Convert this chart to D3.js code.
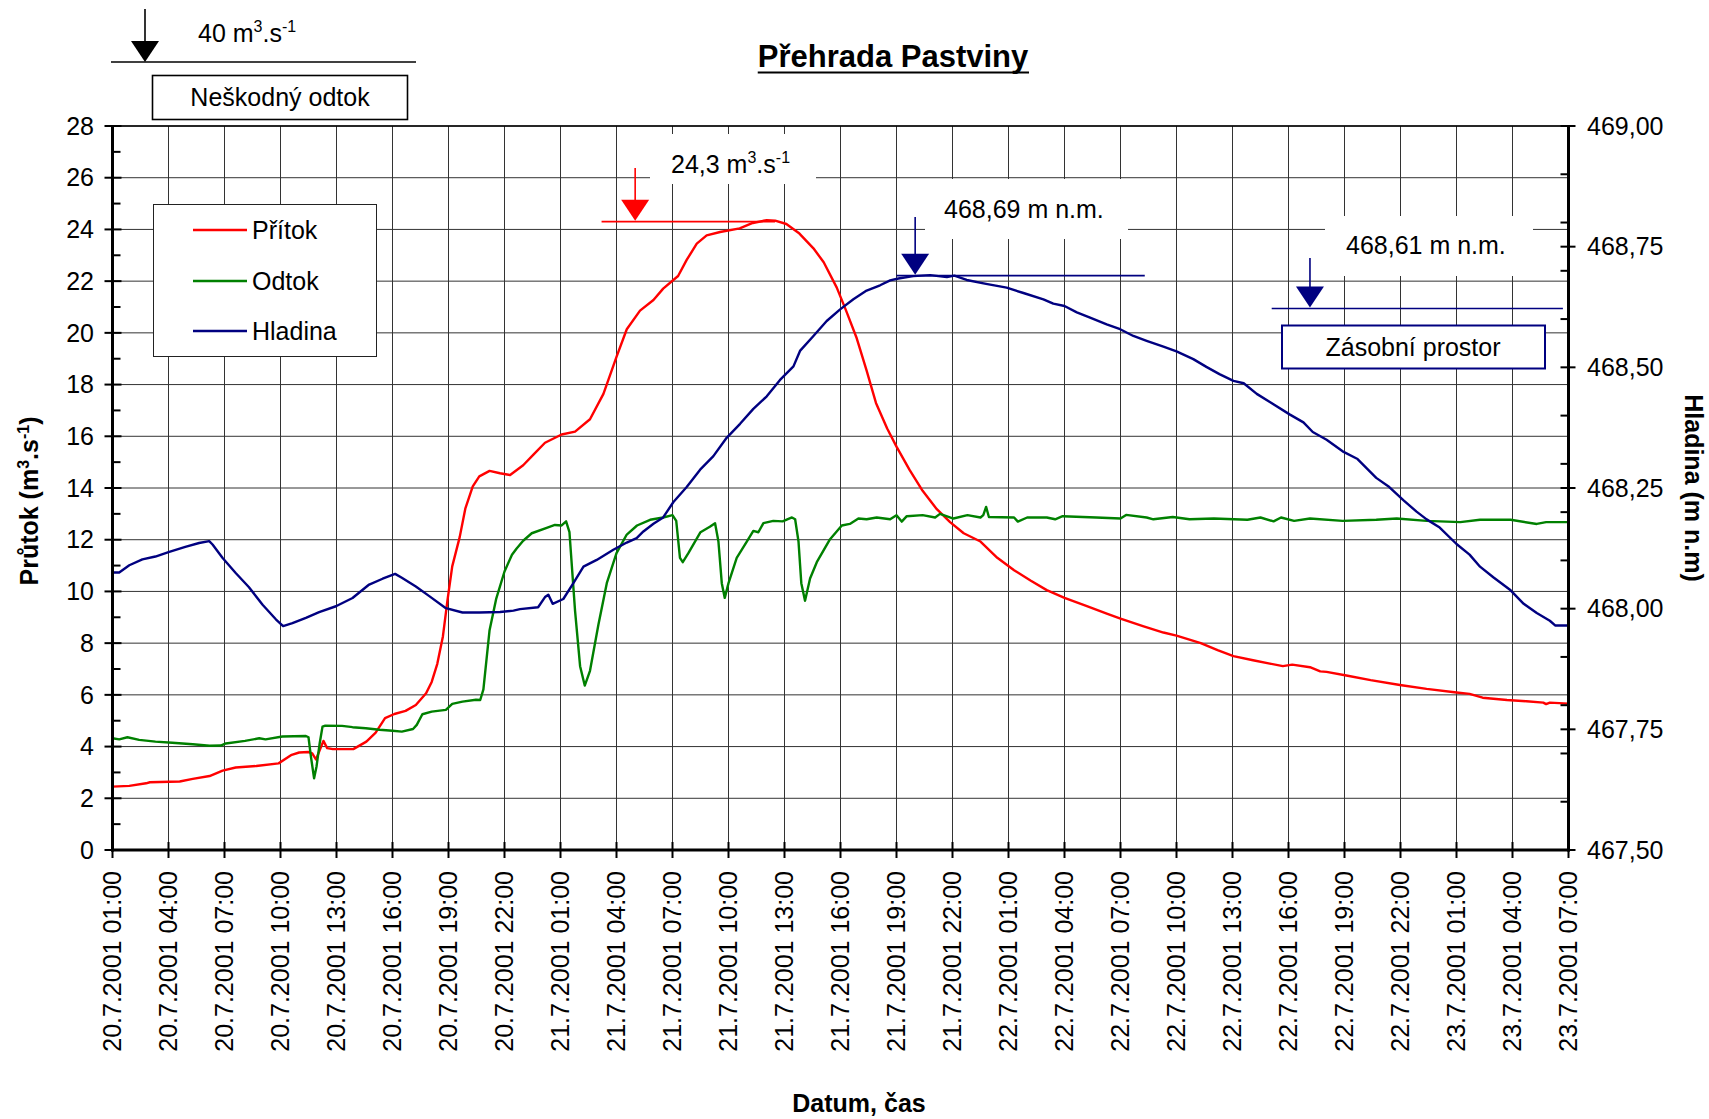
<!DOCTYPE html>
<html><head><meta charset="utf-8">
<script src="https://cdn.jsdelivr.net/npm/d3@7"></script>
<style>body{margin:0;background:#fff}</style>
</head><body>
<svg id="c" width="1709" height="1119"></svg>
<script>
// ---------------- DATA ----------------
// [hours since 20.7.2001 01:00, value]
const inflow = [[0,2.45],[0.9,2.48],[1.8,2.58],[2.0,2.62],[3.6,2.65],[4.3,2.75],[5.2,2.86],[5.9,3.07],[6.6,3.19],[7.7,3.25],[8.9,3.35],[9.6,3.68],[10.0,3.77],[10.5,3.79],[10.7,3.74],[10.9,3.5],[11.3,4.22],[11.5,3.94],[11.8,3.9],[12.9,3.9],[13.6,4.19],[14.1,4.54],[14.6,5.1],[15.1,5.26],[15.7,5.38],[16.25,5.61],[16.8,6.06],[17.1,6.5],[17.4,7.2],[17.7,8.26],[17.95,9.68],[18.2,10.97],[18.6,12.1],[18.9,13.2],[19.3,14.06],[19.65,14.45],[20.2,14.66],[20.76,14.57],[21.3,14.5],[22.0,14.88],[22.55,15.29],[23.17,15.75],[24.06,16.07],[24.78,16.18],[25.58,16.66],[26.3,17.64],[27.0,19.07],[27.55,20.14],[28.26,20.86],[28.98,21.27],[29.5,21.71],[30.3,22.2],[30.76,22.82],[31.3,23.45],[31.83,23.77],[32.55,23.9],[33.6,24.04],[34.3,24.25],[35.05,24.36],[35.5,24.34],[36.1,24.21],[36.8,23.84],[37.55,23.27],[38.1,22.73],[38.8,21.75],[39.3,20.86],[39.87,19.79],[40.4,18.54],[40.9,17.29],[41.5,16.3],[42.0,15.6],[42.7,14.7],[43.4,13.89],[44.16,13.18],[44.87,12.68],[45.6,12.25],[46.5,11.93],[47.4,11.3],[48.3,10.82],[49.2,10.41],[50.05,10.05],[51.0,9.75],[52.2,9.43],[53.3,9.13],[54.0,8.95],[55.2,8.66],[56.3,8.41],[57.0,8.29],[58.3,8.0],[59.2,7.73],[60.05,7.5],[61.1,7.34],[62.0,7.21],[62.7,7.11],[63.2,7.17],[64.15,7.07],[64.7,6.91],[65.04,6.89],[66.1,6.75],[67.4,6.57],[68.97,6.38],[70.4,6.23],[72.0,6.09],[72.7,6.04],[73.4,5.89],[74.7,5.8],[75.75,5.75],[76.65,5.7],[76.8,5.64],[77.0,5.7],[78.0,5.66]];

const outflow = [[0,4.32],[0.36,4.28],[0.8,4.36],[1.43,4.26],[2.3,4.19],[3.2,4.15],[4.3,4.09],[5.2,4.03],[5.8,4.04],[6.07,4.12],[7.1,4.22],[7.86,4.32],[8.2,4.28],[9.1,4.39],[10.36,4.41],[10.5,4.36],[10.63,3.61],[10.8,2.77],[10.93,3.23],[11.1,4.13],[11.25,4.77],[11.4,4.81],[12.3,4.8],[12.86,4.75],[13.57,4.71],[14.3,4.65],[15.0,4.61],[15.5,4.58],[16.1,4.68],[16.3,4.84],[16.6,5.25],[17.1,5.35],[17.86,5.42],[18.2,5.65],[18.75,5.74],[19.47,5.81],[19.7,5.8],[19.87,6.21],[20.2,8.5],[20.55,9.7],[21.0,10.77],[21.4,11.42],[21.65,11.66],[22.0,11.96],[22.46,12.25],[23.26,12.46],[23.7,12.57],[24.06,12.55],[24.3,12.71],[24.48,12.29],[24.78,9.25],[25.05,7.11],[25.3,6.36],[25.58,6.93],[26.03,8.71],[26.48,10.32],[27.0,11.48],[27.55,12.2],[28.1,12.55],[28.8,12.77],[29.5,12.86],[30.0,12.95],[30.2,12.73],[30.4,11.3],[30.55,11.13],[30.85,11.48],[31.5,12.29],[32.0,12.5],[32.28,12.64],[32.46,11.93],[32.64,10.32],[32.8,9.75],[33.0,10.32],[33.44,11.3],[33.98,11.93],[34.33,12.34],[34.6,12.29],[34.87,12.64],[35.4,12.73],[35.9,12.71],[36.4,12.86],[36.57,12.79],[36.75,11.93],[36.9,10.32],[37.1,9.64],[37.37,10.5],[37.73,11.13],[38.44,12.02],[39.07,12.55],[39.5,12.61],[39.96,12.82],[40.4,12.79],[40.94,12.86],[41.66,12.79],[42.0,12.95],[42.28,12.7],[42.55,12.91],[43.4,12.95],[44.07,12.86],[44.33,13.0],[45.05,12.82],[45.8,12.95],[46.5,12.86],[46.65,12.95],[46.8,13.27],[46.95,12.88],[48.3,12.86],[48.5,12.7],[49.0,12.86],[50.05,12.86],[50.5,12.79],[50.9,12.91],[52.7,12.86],[54.0,12.82],[54.3,12.96],[55.4,12.86],[55.76,12.79],[56.8,12.88],[57.7,12.79],[59.0,12.82],[60.8,12.77],[61.5,12.86],[62.2,12.71],[62.6,12.86],[63.3,12.73],[64.15,12.82],[65.9,12.73],[67.7,12.77],[68.8,12.82],[70.4,12.73],[72.2,12.68],[73.26,12.77],[74.9,12.77],[76.3,12.61],[76.8,12.68],[78.0,12.68]];

const level = [[0,468.075],[0.36,468.075],[0.9,468.090],[1.6,468.102],[2.3,468.108],[3.0,468.117],[3.9,468.128],[4.64,468.136],[5.18,468.140],[5.36,468.133],[5.9,468.105],[6.6,468.074],[7.3,468.045],[8.04,468.008],[8.75,467.978],[9.14,467.964],[9.64,467.970],[10.36,467.981],[11.07,467.993],[11.97,468.005],[12.86,468.022],[13.75,468.050],[14.47,468.062],[15.14,468.072],[15.5,468.064],[16.25,468.046],[16.97,468.026],[17.86,468.001],[18.75,467.992],[19.65,467.992],[20.76,467.993],[21.48,467.996],[21.83,467.999],[22.8,468.003],[23.17,468.024],[23.35,468.029],[23.58,468.010],[24.15,468.020],[24.69,468.053],[25.23,468.087],[25.94,468.101],[26.83,468.122],[27.55,468.137],[28.08,468.146],[28.44,468.160],[28.98,468.176],[29.5,468.189],[30.05,468.221],[30.76,468.252],[31.48,468.288],[32.19,468.316],[32.9,468.354],[33.62,468.383],[34.33,468.414],[35.05,468.440],[35.76,468.474],[36.48,468.502],[36.83,468.534],[37.55,468.565],[38.26,468.596],[38.98,468.620],[39.69,468.641],[40.4,468.659],[41.12,468.670],[41.66,468.680],[42.1,468.684],[42.9,468.689],[43.8,468.691],[44.7,468.687],[45.1,468.690],[45.76,468.681],[46.8,468.673],[47.9,468.665],[48.8,468.654],[49.87,468.641],[50.4,468.632],[51.0,468.627],[51.66,468.614],[52.37,468.603],[53.26,468.589],[53.98,468.579],[54.69,468.565],[55.4,468.555],[56.3,468.543],[57.0,468.533],[57.9,468.517],[58.6,468.501],[59.3,468.486],[60.05,468.472],[60.6,468.467],[61.3,468.445],[62.0,468.428],[63.08,468.402],[63.8,468.386],[64.3,468.366],[65.04,468.350],[65.9,468.326],[66.7,468.310],[67.7,468.271],[68.4,468.252],[69.15,468.225],[69.86,468.201],[70.4,468.185],[71.1,468.168],[72.0,468.134],[72.7,468.112],[73.26,468.087],[73.97,468.065],[74.9,468.038],[75.6,468.010],[76.3,467.991],[77.0,467.975],[77.3,467.965],[78.0,467.965]];

const seriesNames = ["Přítok", "Odtok", "Hladina"];
const seriesColors = ["#ff0000", "#008000", "#000080"];
const flowTicks = [0,2,4,6,8,10,12,14,16,18,20,22,24,26,28];
const flowMinorTicks = [1,3,5,7,9,11,13,15,17,19,21,23,25,27];
const levelTicks = [467.5,467.75,468.0,468.25,468.5,468.75,469.0];
const levelMinorTicks = [467.6,467.7,467.8,467.9,468.1,468.2,468.3,468.4,468.6,468.7,468.8,468.9];
const timeTickHours = [0,3,6,9,12,15,18,21,24,27,30,33,36,39,42,45,48,51,54,57,60,63,66,69,72,75,78];

// annotations
const peakFlow = 24.3, peakFlowHour = 28.0, peakFlowSpan = [26.2, 35.5];
const peakLevel = 468.69, peakLevelHour = 43.0, peakLevelSpan = [42.0, 55.3];
const storageLevel = 468.622, storageHour = 64.15, storageSpan = [62.1, 77.7];

// ---------------- CHART ----------------
const F = "'Liberation Sans', Arial, sans-serif";
const FS = 25;
const svg = d3.select("#c").style("font-family", F);
svg.append("rect").attr("width",1709).attr("height",1119).attr("fill","#fff");

const X0 = 112.5, X1 = 1568.5, Y0 = 126, Y1 = 850;
const t0 = new Date(2001, 6, 20, 1, 0);
const toDate = h => new Date(t0.getTime() + h * 3600e3);
const x = d3.scaleTime().domain([toDate(0), toDate(78)]).range([X0, X1]);
const y = d3.scaleLinear().domain([0, 28]).range([Y1, Y0]);
const yR = d3.scaleLinear().domain([467.5, 469]).range([Y1, Y0]);
const fmtDate = d3.timeFormat("%-d.%-m.%Y %H:%M");

// grid
const grid = svg.append("g").attr("stroke", "#333").attr("stroke-width", 1);
grid.selectAll("line.v").data(timeTickHours).join("line").attr("class","v")
  .attr("x1", h => x(toDate(h))).attr("x2", h => x(toDate(h)))
  .attr("y1", Y0).attr("y2", Y1);
grid.selectAll("line.h").data(flowTicks).join("line").attr("class","h")
  .attr("x1", X0).attr("x2", X1)
  .attr("y1", d => y(d)).attr("y2", d => y(d));

// white label boxes (cover grid)
const boxes = [
  {x: 650, y: 134, w: 166, h: 50},
  {x: 925, y: 179, w: 203, h: 60},
  {x: 1325, y: 216, w: 208, h: 60}
];
svg.append("g").selectAll("rect").data(boxes).join("rect")
  .attr("x", d => d.x).attr("y", d => d.y).attr("width", d => d.w).attr("height", d => d.h)
  .attr("fill", "#fff");

// series
const lineFlow = d3.line().x(d => x(toDate(d[0]))).y(d => y(d[1]));
const lineLevel = d3.line().x(d => x(toDate(d[0]))).y(d => yR(d[1]));
const series = [
  {data: inflow, gen: lineFlow, color: seriesColors[0]},
  {data: outflow, gen: lineFlow, color: seriesColors[1]},
  {data: level, gen: lineLevel, color: seriesColors[2]}
];
svg.append("g").selectAll("path").data(series).join("path")
  .attr("d", d => d.gen(d.data)).attr("fill", "none")
  .attr("stroke", d => d.color).attr("stroke-width", 2.4)
  .attr("stroke-linejoin", "round");

// axes lines
const ax = svg.append("g").attr("stroke", "#000");
ax.append("line").attr("x1", X0).attr("x2", X1).attr("y1", Y0).attr("y2", Y0).attr("stroke-width", 1.5);
ax.append("line").attr("x1", X0).attr("x2", X0).attr("y1", Y0 - 1).attr("y2", Y1 + 1.5).attr("stroke-width", 3);
ax.append("line").attr("x1", X1).attr("x2", X1).attr("y1", Y0 - 1).attr("y2", Y1 + 1.5).attr("stroke-width", 3);
ax.append("line").attr("x1", X0 - 1.5).attr("x2", X1 + 1.5).attr("y1", Y1).attr("y2", Y1).attr("stroke-width", 3);

// left ticks
ax.selectAll("line.lt").data(flowTicks).join("line").attr("class","lt")
  .attr("x1", X0 - 8).attr("x2", X0 + 9).attr("y1", d => y(d)).attr("y2", d => y(d)).attr("stroke-width", 2);
ax.selectAll("line.lm").data(flowMinorTicks).join("line").attr("class","lm")
  .attr("x1", X0).attr("x2", X0 + 8).attr("y1", d => y(d)).attr("y2", d => y(d)).attr("stroke-width", 2);
// right ticks
ax.selectAll("line.rt").data(levelTicks).join("line").attr("class","rt")
  .attr("x1", X1 - 8).attr("x2", X1 + 7).attr("y1", d => yR(d)).attr("y2", d => yR(d)).attr("stroke-width", 2);
ax.selectAll("line.rm").data(levelMinorTicks).join("line").attr("class","rm")
  .attr("x1", X1 - 8).attr("x2", X1).attr("y1", d => yR(d)).attr("y2", d => yR(d)).attr("stroke-width", 2);
// bottom ticks
ax.selectAll("line.bt").data(timeTickHours).join("line").attr("class","bt")
  .attr("x1", h => x(toDate(h))).attr("x2", h => x(toDate(h)))
  .attr("y1", Y1 - 8).attr("y2", Y1 + 8).attr("stroke-width", 2);

// tick labels
svg.append("g").selectAll("text").data(flowTicks).join("text")
  .attr("x", 94).attr("y", d => y(d)).attr("dy", "0.35em").attr("text-anchor", "end")
  .attr("font-size", FS).text(d => d);
svg.append("g").selectAll("text").data(levelTicks).join("text")
  .attr("x", 1587).attr("y", d => yR(d)).attr("dy", "0.35em").attr("text-anchor", "start")
  .attr("font-size", FS).text(d => d3.format(".2f")(d).replace(".", ","));
svg.append("g").selectAll("text").data(timeTickHours).join("text")
  .attr("transform", h => `translate(${x(toDate(h))},871) rotate(-90)`)
  .attr("dy", "0.35em").attr("text-anchor", "end").attr("font-size", FS)
  .text(h => fmtDate(toDate(h)));

// axis titles
svg.append("text").attr("x", 859).attr("y", 1112).attr("text-anchor", "middle")
  .attr("font-size", FS).attr("font-weight", "bold").text("Datum, čas");
const lt = svg.append("text").attr("transform", "translate(38,501) rotate(-90)")
  .attr("text-anchor", "middle").attr("font-size", FS).attr("font-weight", "bold");
lt.append("tspan").text("Průtok (m");
lt.append("tspan").attr("font-size", 16).attr("dy", -9).text("3");
lt.append("tspan").attr("dy", 9).text(".s");
lt.append("tspan").attr("font-size", 16).attr("dy", -9).text("-1");
lt.append("tspan").attr("dy", 9).text(")");
svg.append("text").attr("transform", "translate(1685,488) rotate(90)")
  .attr("text-anchor", "middle").attr("font-size", FS).attr("font-weight", "bold")
  .text("Hladina (m n.m)");

// title
const title = svg.append("text").attr("x", 893).attr("y", 67).attr("text-anchor", "middle")
  .attr("font-size", 31).attr("font-weight", "bold").text("Přehrada Pastviny");
const tb = title.node().getBBox();
svg.append("line").attr("x1", tb.x).attr("x2", tb.x + tb.width).attr("y1", 72.5).attr("y2", 72.5)
  .attr("stroke", "#000").attr("stroke-width", 2);

// legend
const leg = svg.append("g");
leg.append("rect").attr("x", 153.5).attr("y", 204.5).attr("width", 223).attr("height", 152)
  .attr("fill", "#fff").attr("stroke", "#222").attr("stroke-width", 1);
const legY = [230, 281, 331];
seriesNames.forEach((n, i) => {
  leg.append("line").attr("x1", 193).attr("x2", 247).attr("y1", legY[i]).attr("y2", legY[i])
    .attr("stroke", seriesColors[i]).attr("stroke-width", 2.4);
  leg.append("text").attr("x", 252).attr("y", legY[i] + 9).attr("font-size", FS).text(n);
});

// helper: arrow
function arrow(g, xc, yTop, yTip, color) {
  g.append("line").attr("x1", xc).attr("x2", xc).attr("y1", yTop).attr("y2", yTip - 18)
    .attr("stroke", color).attr("stroke-width", 1.6);
  g.append("path").attr("d", `M${xc - 14},${yTip - 21}L${xc + 14},${yTip - 21}L${xc},${yTip}Z`).attr("fill", color);
}
function unitText(g, xs, ys, main, color) {
  const t = g.append("text").attr("x", xs).attr("y", ys).attr("font-size", FS).attr("fill", color);
  t.append("tspan").text(main);
  t.append("tspan").attr("font-size", 16).attr("dy", -10).text("3");
  t.append("tspan").attr("dy", 10).text(".s");
  t.append("tspan").attr("font-size", 16).attr("dy", -10).text("-1");
  return t;
}

const an = svg.append("g");
// harmless outflow (above chart)
arrow(an, 145, 9, 62, "#000");
an.append("line").attr("x1", 111).attr("x2", 416).attr("y1", 62).attr("y2", 62).attr("stroke", "#000").attr("stroke-width", 1.6);
unitText(an, 198, 42, "40 m", "#000");
an.append("rect").attr("x", 152.5).attr("y", 75.5).attr("width", 255).attr("height", 44)
  .attr("fill", "#fff").attr("stroke", "#000").attr("stroke-width", 1.6);
an.append("text").attr("x", 280).attr("y", 106).attr("text-anchor", "middle").attr("font-size", FS).text("Neškodný odtok");

// peak inflow
const pfY = y(peakFlow);
an.append("line").attr("x1", x(toDate(peakFlowSpan[0]))).attr("x2", x(toDate(peakFlowSpan[1])))
  .attr("y1", pfY).attr("y2", pfY).attr("stroke", "#ff0000").attr("stroke-width", 1.6);
arrow(an, x(toDate(peakFlowHour)), 168, pfY - 1, "#ff0000");
unitText(an, 671, 173, "24,3 m", "#000");

// peak level
const plY = yR(peakLevel);
an.append("line").attr("x1", x(toDate(peakLevelSpan[0]))).attr("x2", x(toDate(peakLevelSpan[1])))
  .attr("y1", plY).attr("y2", plY).attr("stroke", "#000080").attr("stroke-width", 1.6);
arrow(an, x(toDate(peakLevelHour)), 217, plY - 1, "#000080");
an.append("text").attr("x", 944).attr("y", 218).attr("font-size", FS).text("468,69 m n.m.");

// storage level
const slY = yR(storageLevel);
an.append("line").attr("x1", x(toDate(storageSpan[0]))).attr("x2", x(toDate(storageSpan[1])))
  .attr("y1", slY).attr("y2", slY).attr("stroke", "#000080").attr("stroke-width", 1.6);
arrow(an, x(toDate(storageHour)), 258, slY - 1, "#000080");
an.append("text").attr("x", 1346).attr("y", 254).attr("font-size", FS).text("468,61 m n.m.");
an.append("rect").attr("x", 1282).attr("y", 325.5).attr("width", 263).attr("height", 43)
  .attr("fill", "#fff").attr("stroke", "#000080").attr("stroke-width", 2);
an.append("text").attr("x", 1413).attr("y", 356).attr("text-anchor", "middle").attr("font-size", FS).text("Zásobní prostor");
</script>
</body></html>
